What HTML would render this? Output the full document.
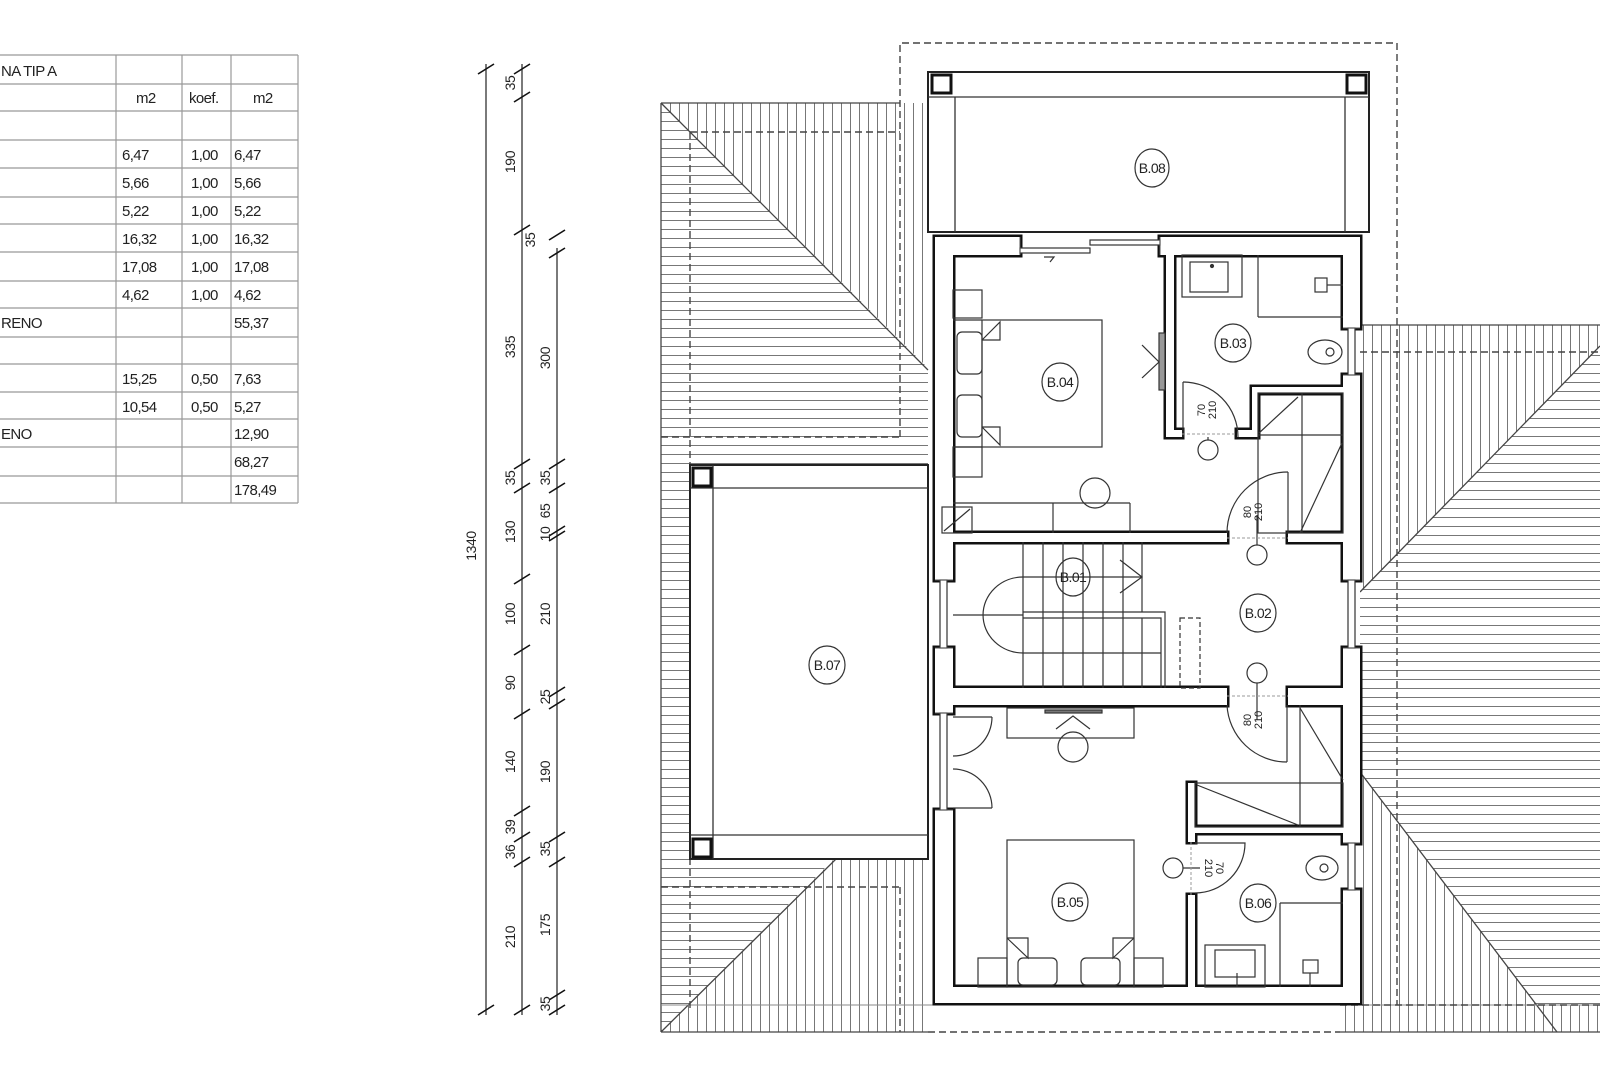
<!DOCTYPE html>
<html><head><meta charset="utf-8">
<style>
html,body{margin:0;padding:0;background:#fff;}
svg{display:block;}
text{font-family:"Liberation Sans",Arial,sans-serif;fill:#222;}
</style></head>
<body>
<svg width="1600" height="1067" viewBox="0 0 1600 1067" xmlns="http://www.w3.org/2000/svg">
<defs>
<pattern id="ph" width="9" height="9" patternUnits="userSpaceOnUse"><line x1="0" y1="4.5" x2="9" y2="4.5" stroke="#777" stroke-width="1"/></pattern>
<pattern id="pv" width="9" height="9" patternUnits="userSpaceOnUse"><line x1="4.5" y1="0" x2="4.5" y2="9" stroke="#777" stroke-width="1"/></pattern>
</defs>
<rect width="1600" height="1067" fill="#fff"/>

<!-- TABLE -->
<g stroke="#999" stroke-width="1.2" fill="none">
<line x1="0" y1="55" x2="298" y2="55"/><line x1="0" y1="84" x2="298" y2="84"/><line x1="0" y1="111" x2="298" y2="111"/>
<line x1="0" y1="140" x2="298" y2="140"/><line x1="0" y1="168" x2="298" y2="168"/><line x1="0" y1="197" x2="298" y2="197"/>
<line x1="0" y1="224" x2="298" y2="224"/><line x1="0" y1="252" x2="298" y2="252"/><line x1="0" y1="281" x2="298" y2="281"/>
<line x1="0" y1="308" x2="298" y2="308"/><line x1="0" y1="337" x2="298" y2="337"/><line x1="0" y1="364" x2="298" y2="364"/>
<line x1="0" y1="392" x2="298" y2="392"/><line x1="0" y1="419" x2="298" y2="419"/><line x1="0" y1="447" x2="298" y2="447"/>
<line x1="0" y1="476" x2="298" y2="476"/><line x1="0" y1="503" x2="298" y2="503"/>
<line x1="116" y1="55" x2="116" y2="503"/><line x1="182" y1="55" x2="182" y2="503"/><line x1="231" y1="55" x2="231" y2="503"/><line x1="298" y1="55" x2="298" y2="503"/>
</g>
<g font-size="15" letter-spacing="-0.6">
<text x="1" y="76">NA TIP A</text>
<text x="136" y="103">m2</text><text x="189" y="103">koef.</text><text x="253" y="103">m2</text>
<text x="122" y="160">6,47</text><text x="191" y="160">1,00</text><text x="234" y="160">6,47</text>
<text x="122" y="188">5,66</text><text x="191" y="188">1,00</text><text x="234" y="188">5,66</text>
<text x="122" y="216">5,22</text><text x="191" y="216">1,00</text><text x="234" y="216">5,22</text>
<text x="122" y="244">16,32</text><text x="191" y="244">1,00</text><text x="234" y="244">16,32</text>
<text x="122" y="272">17,08</text><text x="191" y="272">1,00</text><text x="234" y="272">17,08</text>
<text x="122" y="300">4,62</text><text x="191" y="300">1,00</text><text x="234" y="300">4,62</text>
<text x="1" y="328">RENO</text><text x="234" y="328">55,37</text>
<text x="122" y="384">15,25</text><text x="191" y="384">0,50</text><text x="234" y="384">7,63</text>
<text x="122" y="412">10,54</text><text x="191" y="412">0,50</text><text x="234" y="412">5,27</text>
<text x="1" y="439">ENO</text><text x="234" y="439">12,90</text>
<text x="234" y="467">68,27</text>
<text x="234" y="495">178,49</text>
</g>

<!-- DIMENSIONS -->
<g stroke="#333" stroke-width="1.3">
<line x1="486" y1="64" x2="486" y2="1015"/>
<line x1="522" y1="64" x2="522" y2="1015"/>
<line x1="557" y1="248" x2="557" y2="1015"/>
</g>
<g stroke="#111" stroke-width="1.6">
<!-- ticks col486 -->
<line x1="478" y1="74" x2="494" y2="64"/><line x1="478" y1="1015" x2="494" y2="1005"/>
<!-- ticks col522 -->
<line x1="514" y1="74" x2="530" y2="64"/><line x1="514" y1="102" x2="530" y2="92"/><line x1="514" y1="235" x2="530" y2="225"/>
<line x1="514" y1="469" x2="530" y2="459"/><line x1="514" y1="493" x2="530" y2="483"/><line x1="514" y1="584" x2="530" y2="574"/>
<line x1="514" y1="655" x2="530" y2="645"/><line x1="514" y1="719" x2="530" y2="709"/><line x1="514" y1="816" x2="530" y2="806"/>
<line x1="514" y1="842" x2="530" y2="832"/><line x1="514" y1="867" x2="530" y2="857"/><line x1="514" y1="1015" x2="530" y2="1005"/>
<!-- ticks col557 -->
<line x1="549" y1="240" x2="565" y2="230"/><line x1="549" y1="258" x2="565" y2="248"/><line x1="549" y1="469" x2="565" y2="459"/>
<line x1="549" y1="493" x2="565" y2="483"/><line x1="549" y1="536" x2="565" y2="526"/><line x1="549" y1="541" x2="565" y2="531"/>
<line x1="549" y1="697" x2="565" y2="687"/><line x1="549" y1="709" x2="565" y2="699"/><line x1="549" y1="842" x2="565" y2="832"/>
<line x1="549" y1="867" x2="565" y2="857"/><line x1="549" y1="1000" x2="565" y2="990"/><line x1="549" y1="1015" x2="565" y2="1005"/>
</g>
<g font-size="14" text-anchor="middle" letter-spacing="-0.4">
<text transform="translate(476,546) rotate(-90)">1340</text>
<text transform="translate(515,83) rotate(-90)">35</text>
<text transform="translate(515,162) rotate(-90)">190</text>
<text transform="translate(535,240) rotate(-90)">35</text>
<text transform="translate(515,347) rotate(-90)">335</text>
<text transform="translate(515,478) rotate(-90)">35</text>
<text transform="translate(515,532) rotate(-90)">130</text>
<text transform="translate(515,614) rotate(-90)">100</text>
<text transform="translate(515,683) rotate(-90)">90</text>
<text transform="translate(515,762) rotate(-90)">140</text>
<text transform="translate(515,827) rotate(-90)">39</text>
<text transform="translate(515,852) rotate(-90)">36</text>
<text transform="translate(515,937) rotate(-90)">210</text>
<text transform="translate(550,358) rotate(-90)">300</text>
<text transform="translate(550,478) rotate(-90)">35</text>
<text transform="translate(550,511) rotate(-90)">65</text>
<text transform="translate(550,534) rotate(-90)">10</text>
<text transform="translate(550,614) rotate(-90)">210</text>
<text transform="translate(550,697) rotate(-90)">25</text>
<text transform="translate(550,772) rotate(-90)">190</text>
<text transform="translate(550,849) rotate(-90)">35</text>
<text transform="translate(550,925) rotate(-90)">175</text>
<text transform="translate(550,1004) rotate(-90)">35</text>
</g>

<!-- ROOF HATCHING -->
<polygon points="661,103 928,103 928,368" fill="url(#pv)"/>
<polygon points="661,103 928,368 928,465 690,465 690,859 834,859 661,1032" fill="url(#ph)"/>
<polygon points="834,859 928,859 928,1032 661,1032" fill="url(#pv)"/>
<polygon points="1360,325 1600,325 1600,346 1360,592" fill="url(#pv)"/>
<polygon points="1360,592 1600,346 1600,1005 1536,1005 1360,772" fill="url(#ph)"/>
<polygon points="1360,772 1536,1005 1360,1005" fill="url(#pv)"/>
<polygon points="1340,1005 1600,1005 1600,1032 1340,1032" fill="url(#pv)"/>
<g stroke="#444" stroke-width="1.3" fill="none">
<line x1="661" y1="103" x2="661" y2="1032"/>
<line x1="661" y1="103" x2="900" y2="103"/>
<line x1="661" y1="103" x2="928" y2="370"/>
<line x1="661" y1="1032" x2="836" y2="859"/>
<line x1="661" y1="1032" x2="928" y2="1032"/>
<line x1="1360" y1="325" x2="1600" y2="325"/>
<line x1="1600" y1="346" x2="1360" y2="592"/>
<line x1="1360" y1="772" x2="1557" y2="1032"/>
<line x1="1340" y1="1032" x2="1600" y2="1032"/>
<line x1="661" y1="1005" x2="1600" y2="1005" stroke="#888" stroke-width="1"/>
</g>
<g stroke="#444" stroke-width="1.4" fill="none" stroke-dasharray="7,4">
<polyline points="900,437 900,43 1397,43 1397,1005"/>
<line x1="690" y1="132" x2="900" y2="132"/>
<line x1="690" y1="132" x2="690" y2="1010"/>
<line x1="661" y1="437" x2="900" y2="437"/>
<line x1="661" y1="887" x2="900" y2="887"/>
<line x1="900" y1="887" x2="900" y2="1032"/>
<line x1="1360" y1="352" x2="1600" y2="352"/>
<line x1="1340" y1="1005" x2="1600" y2="1005"/>
<line x1="928" y1="1032" x2="1340" y2="1032"/>
</g>

<!-- BALCONY B.08 -->
<rect x="928" y="72" width="441" height="160" fill="#fff" stroke="#222" stroke-width="2"/>
<g stroke="#333" stroke-width="1.3" fill="none">
<line x1="928" y1="97" x2="1369" y2="97"/>
<line x1="955" y1="97" x2="955" y2="232"/>
<line x1="1345" y1="97" x2="1345" y2="232"/>
</g>
<rect x="932" y="75" width="19" height="18" fill="#fff" stroke="#111" stroke-width="3"/>
<rect x="1347" y="75" width="19" height="18" fill="#fff" stroke="#111" stroke-width="3"/>

<!-- TERRACE B.07 -->
<rect x="690" y="465" width="238" height="394" fill="#fff" stroke="#222" stroke-width="2"/>
<g stroke="#333" stroke-width="1.3" fill="none">
<line x1="713" y1="465" x2="713" y2="859"/>
<line x1="690" y1="488" x2="928" y2="488"/>
<line x1="690" y1="835" x2="928" y2="835"/>
</g>
<rect x="693" y="468" width="18" height="18" fill="#fff" stroke="#111" stroke-width="3"/>
<rect x="693" y="839" width="18" height="18" fill="#fff" stroke="#111" stroke-width="3"/>

<!-- BUILDING floor -->
<rect x="935" y="237" width="425" height="766" fill="#fff"/>

<!-- WALLS: black outline then white fill -->
<g id="walls" fill="#111">
<g stroke="#111" stroke-width="5">
<rect x="935" y="237" width="85" height="18"/>
<rect x="1160" y="237" width="200" height="18"/>
<rect x="935" y="237" width="18" height="343"/>
<rect x="935" y="648" width="18" height="65"/>
<rect x="935" y="810" width="18" height="193"/>
<rect x="1343" y="237" width="17" height="91"/>
<rect x="1343" y="375" width="17" height="205"/>
<rect x="1343" y="648" width="17" height="195"/>
<rect x="1343" y="890" width="17" height="113"/>
<rect x="935" y="987" width="425" height="16"/>
<rect x="1166" y="237" width="8" height="200"/>
<rect x="1166" y="430" width="16" height="7"/>
<rect x="1237" y="430" width="21" height="7"/>
<rect x="1252" y="387" width="6" height="50"/>
<rect x="1252" y="387" width="91" height="6"/>
<rect x="953" y="533" width="274" height="9"/>
<rect x="1288" y="533" width="55" height="9"/>
<rect x="953" y="688" width="274" height="17"/>
<rect x="1288" y="688" width="55" height="17"/>
<rect x="1188" y="827" width="155" height="6"/>
<rect x="1188" y="783" width="7" height="59"/>
<rect x="1188" y="895" width="7" height="92"/>
</g>
<g fill="#fff">
<rect x="935" y="237" width="85" height="18"/>
<rect x="1160" y="237" width="200" height="18"/>
<rect x="935" y="237" width="18" height="343"/>
<rect x="935" y="648" width="18" height="65"/>
<rect x="935" y="810" width="18" height="193"/>
<rect x="1343" y="237" width="17" height="91"/>
<rect x="1343" y="375" width="17" height="205"/>
<rect x="1343" y="648" width="17" height="195"/>
<rect x="1343" y="890" width="17" height="113"/>
<rect x="935" y="987" width="425" height="16"/>
<rect x="1166" y="237" width="8" height="200"/>
<rect x="1166" y="430" width="16" height="7"/>
<rect x="1237" y="430" width="21" height="7"/>
<rect x="1252" y="387" width="6" height="50"/>
<rect x="1252" y="387" width="91" height="6"/>
<rect x="953" y="533" width="274" height="9"/>
<rect x="1288" y="533" width="55" height="9"/>
<rect x="953" y="688" width="274" height="17"/>
<rect x="1288" y="688" width="55" height="17"/>
<rect x="1188" y="827" width="155" height="6"/>
<rect x="1188" y="783" width="7" height="59"/>
<rect x="1188" y="895" width="7" height="92"/>
</g>
</g>

<!-- WINDOWS -->
<g stroke="#333" stroke-width="1.2" fill="#fff">
<rect x="1020" y="248" width="70" height="5"/>
<rect x="1090" y="240" width="70" height="5"/>
<rect x="940" y="580" width="7" height="68"/>
<rect x="940" y="713" width="7" height="97"/>
<rect x="1348" y="328" width="7" height="47"/>
<rect x="1348" y="580" width="7" height="68"/>
<rect x="1348" y="843" width="7" height="47"/>
</g>
<g stroke="#555" stroke-width="1" fill="none">
<line x1="935" y1="580" x2="953" y2="580"/><line x1="935" y1="648" x2="953" y2="648"/>
<line x1="935" y1="713" x2="953" y2="713"/><line x1="935" y1="810" x2="953" y2="810"/>
<line x1="1343" y1="328" x2="1360" y2="328"/><line x1="1343" y1="375" x2="1360" y2="375"/>
<line x1="1343" y1="580" x2="1360" y2="580"/><line x1="1343" y1="648" x2="1360" y2="648"/>
<line x1="1343" y1="843" x2="1360" y2="843"/><line x1="1343" y1="890" x2="1360" y2="890"/>
<line x1="1020" y1="237" x2="1020" y2="255"/><line x1="1160" y1="237" x2="1160" y2="255"/>
</g>

<!-- INTERIOR DETAILS -->
<g stroke="#333" stroke-width="1.2" fill="none">
<!-- B.04 -->
<rect x="953" y="290" width="29" height="28"/>
<rect x="953" y="447" width="29" height="30"/>
<rect x="982" y="320" width="120" height="127"/>
<line x1="953" y1="320" x2="982" y2="320"/><line x1="953" y1="447" x2="982" y2="447"/>
<rect x="957" y="332" width="25" height="42" rx="5"/>
<rect x="957" y="395" width="25" height="42" rx="5"/>
<polyline points="982,340 1000,322 1000,340 982,340"/>
<polyline points="982,427 1000,427 1000,445 982,427"/>
<line x1="953" y1="503" x2="1130" y2="503"/>
<line x1="1053" y1="503" x2="1053" y2="533"/><line x1="1130" y1="503" x2="1130" y2="533"/>
<rect x="942" y="507" width="30" height="26"/>
<line x1="944" y1="531" x2="970" y2="509"/>
<circle cx="1095" cy="493" r="15"/>
<rect x="1159" y="333" width="6" height="57" fill="#999"/>
<polyline points="1142,345 1159,362 1142,378"/>
<polyline points="1044,257 1054,257 1050,262"/>
<!-- B.03 -->
<rect x="1182" y="255" width="60" height="42"/>
<rect x="1190" y="262" width="38" height="30"/>
<circle cx="1212" cy="266" r="1.5" fill="#333"/>
<line x1="1258" y1="255" x2="1258" y2="317"/><line x1="1258" y1="317" x2="1343" y2="317"/>
<rect x="1315" y="278" width="12" height="14"/><line x1="1327" y1="285" x2="1343" y2="285"/>
<ellipse cx="1325" cy="352" rx="17" ry="12"/><circle cx="1330" cy="352" r="4"/>
<path d="M1183,382 A55,55 0 0 1 1238,437"/><line x1="1183" y1="382" x2="1183" y2="437"/>
<line x1="1208" y1="437" x2="1208" y2="440"/><circle cx="1208" cy="450" r="10"/>
<!-- stair box B.04 right -->
<rect x="1258" y="393" width="85" height="140"/>
<line x1="1302" y1="393" x2="1302" y2="533"/>
<line x1="1258" y1="435" x2="1343" y2="435"/>
<line x1="1298" y1="397" x2="1259" y2="433"/>
<line x1="1342" y1="443" x2="1300" y2="533"/>
<path d="M1227,533 A61,61 0 0 1 1288,472"/><line x1="1288" y1="472" x2="1288" y2="533"/>
<line x1="1257" y1="515" x2="1257" y2="545"/>
<circle cx="1257" cy="555" r="10"/>
<!-- Stairs B.01 -->
<line x1="1023" y1="542" x2="1023" y2="688"/><line x1="1043" y1="542" x2="1043" y2="688"/>
<line x1="1063" y1="542" x2="1063" y2="688"/><line x1="1083" y1="542" x2="1083" y2="688"/>
<line x1="1103" y1="542" x2="1103" y2="688"/><line x1="1123" y1="542" x2="1123" y2="688"/>
<line x1="1142" y1="542" x2="1142" y2="612"/><line x1="1142" y1="618" x2="1142" y2="688"/>
<polyline points="1023,612 1165,612 1165,688"/>
<polyline points="1023,618 1161,618 1161,688"/>
<line x1="1023" y1="653" x2="1161" y2="653"/>
<path d="M1023,577 A40,38 0 0 0 1023,653"/>
<line x1="953" y1="615" x2="1023" y2="615"/>
<line x1="1023" y1="577" x2="1142" y2="577"/>
<polyline points="1120,560 1142,577 1120,593"/>
<rect x="1180" y="618" width="20" height="70" stroke-dasharray="5,3"/>
<circle cx="1257" cy="673" r="10"/>
<line x1="1257" y1="683" x2="1257" y2="720"/>
<!-- B.05 -->
<rect x="1007" y="708" width="127" height="30"/>
<rect x="1045" y="710" width="57" height="3" fill="#777"/>
<polyline points="1056,729 1073,716 1090,729"/>
<circle cx="1073" cy="747" r="15"/>
<line x1="953" y1="717" x2="992" y2="717"/>
<path d="M992,717 A39,39 0 0 1 953,756"/>
<line x1="953" y1="808" x2="992" y2="808"/>
<path d="M992,808 A39,39 0 0 0 953,769"/>
<path d="M1227,705 A60,60 0 0 0 1287,762"/><line x1="1287" y1="705" x2="1287" y2="762"/>
<rect x="1195" y="783" width="148" height="44"/>
<line x1="1300" y1="705" x2="1300" y2="827"/>
<line x1="1300" y1="708" x2="1343" y2="780"/>
<line x1="1197" y1="785" x2="1298" y2="825"/>
<rect x="1007" y="840" width="127" height="147"/>
<rect x="978" y="958" width="29" height="29"/><rect x="1134" y="958" width="29" height="29"/>
<rect x="1018" y="958" width="39" height="27" rx="5"/><rect x="1081" y="958" width="39" height="27" rx="5"/>
<polyline points="1007,938 1028,938 1028,958 1007,938"/>
<polyline points="1134,938 1113,938 1113,958 1134,938"/>
<!-- B.06 -->
<path d="M1195,843 L1245,843 A50,50 0 0 1 1195,893"/>
<circle cx="1173" cy="868" r="10"/><line x1="1183" y1="868" x2="1200" y2="868"/>
<ellipse cx="1322" cy="868" rx="16" ry="12"/><circle cx="1324" cy="868" r="4"/>
<line x1="1280" y1="903" x2="1343" y2="903"/><line x1="1280" y1="903" x2="1280" y2="987"/>
<rect x="1205" y="945" width="60" height="42"/>
<rect x="1215" y="950" width="40" height="27"/>
<line x1="1237" y1="973" x2="1237" y2="987"/>
<rect x="1303" y="960" width="15" height="13"/><line x1="1310" y1="973" x2="1310" y2="987"/>
</g>
<g stroke="#999" stroke-width="1" stroke-dasharray="3,2" fill="none">
<line x1="1182" y1="434" x2="1237" y2="434"/>
<line x1="1227" y1="538" x2="1288" y2="538"/>
<line x1="1227" y1="696" x2="1288" y2="696"/>
<line x1="1191" y1="842" x2="1191" y2="895"/>
</g>

<!-- ROOM LABELS -->
<g stroke="#333" stroke-width="1.2" fill="#fff">
<ellipse cx="1152" cy="168" rx="17" ry="19"/>
<ellipse cx="1060" cy="382" rx="18" ry="19"/>
<ellipse cx="1233" cy="343" rx="18" ry="19"/>
<ellipse cx="1073" cy="577" rx="17" ry="19" fill="none"/>
<ellipse cx="1258" cy="613" rx="18" ry="19"/>
<ellipse cx="827" cy="665" rx="18" ry="19"/>
<ellipse cx="1070" cy="902" rx="18" ry="19"/>
<ellipse cx="1258" cy="903" rx="18" ry="19"/>
</g>
<g font-size="14" text-anchor="middle" letter-spacing="-0.6">
<text x="1152" y="173">B.08</text>
<text x="1060" y="387">B.04</text>
<text x="1233" y="348">B.03</text>
<text x="1073" y="582">B.01</text>
<text x="1258" y="618">B.02</text>
<text x="827" y="670">B.07</text>
<text x="1070" y="907">B.05</text>
<text x="1258" y="908">B.06</text>
</g>
<g font-size="11" text-anchor="middle">
<text transform="translate(1205,410) rotate(-90)">70</text>
<text transform="translate(1216,410) rotate(-90)">210</text>
<text transform="translate(1251,512) rotate(-90)">80</text>
<text transform="translate(1262,512) rotate(-90)">210</text>
<text transform="translate(1251,720) rotate(-90)">80</text>
<text transform="translate(1262,720) rotate(-90)">210</text>
<text transform="translate(1216,868) rotate(90)">70</text>
<text transform="translate(1205,868) rotate(90)">210</text>
</g>
</svg>
</body></html>
